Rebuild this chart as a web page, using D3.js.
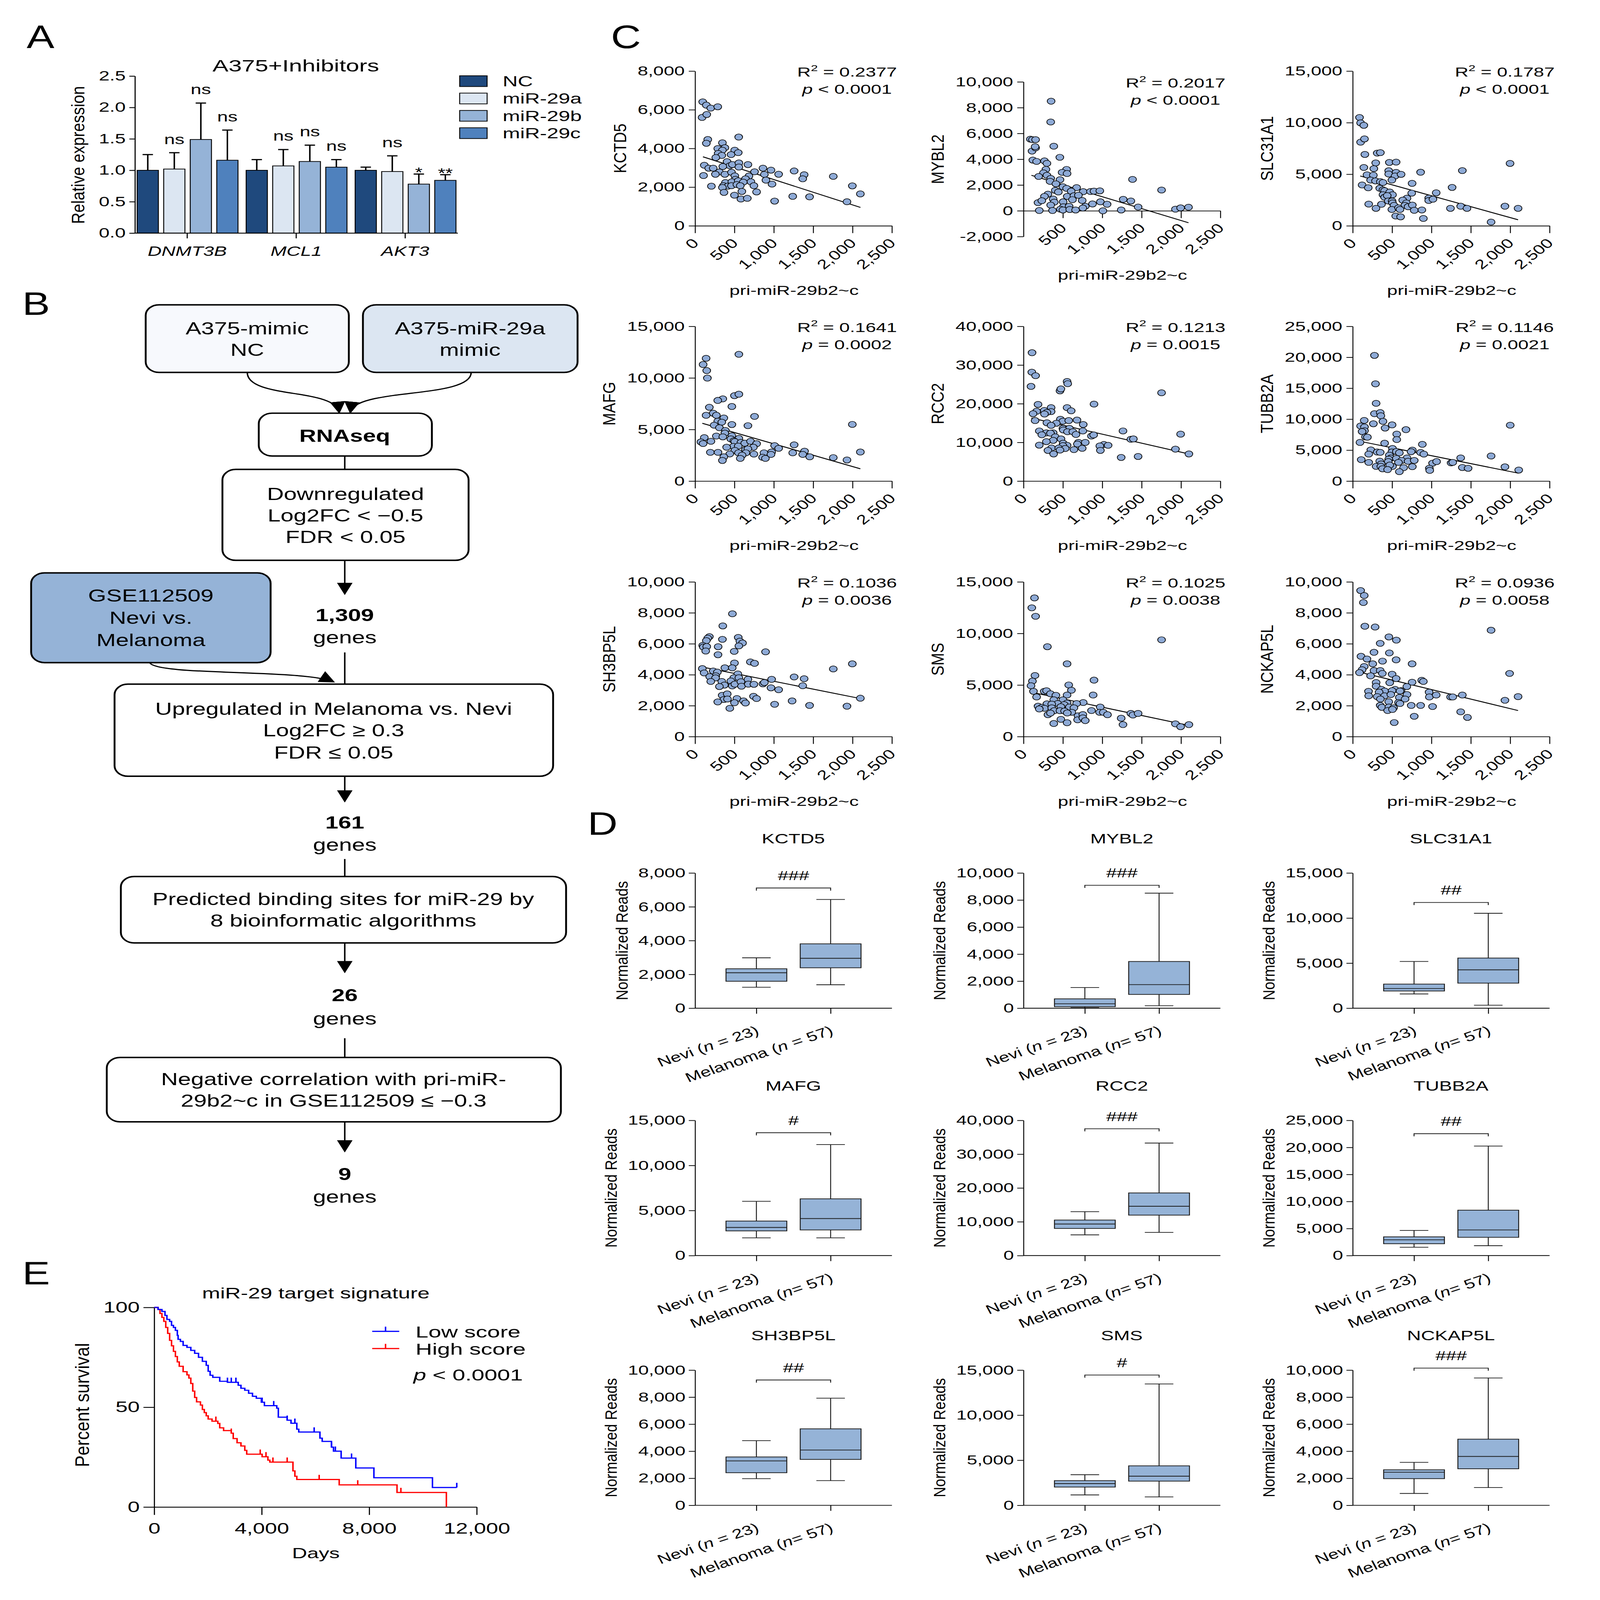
<!DOCTYPE html>
<html><head><meta charset="utf-8">
<script src="https://cdn.jsdelivr.net/npm/d3@7"></script>
<style>html,body{margin:0;padding:0;background:#fff;overflow:hidden}svg{display:block}</style>
</head><body>
<svg id="fig" viewBox="0 0 4316 5491" preserveAspectRatio="none" style="width:100vw;height:100vh" xmlns="http://www.w3.org/2000/svg"></svg>
<script>
// ---------------- DATA ----------------
// Panel A
const aGenes = ["DNMT3B","MCL1","AKT3"];
const aSeries = ["NC","miR-29a","miR-29b","miR-29c"];
const aColors = ["#1f497d","#dce6f2","#95b3d7","#4f81bd"];
const aMeans = [[1.00,1.02,1.49,1.16],[1.00,1.07,1.14,1.05],[1.00,0.98,0.78,0.84]];
const aErrTop = [[1.25,1.28,2.07,1.64],[1.17,1.33,1.40,1.17],[1.05,1.23,0.94,0.93]];
const aSig = [["","ns","ns","ns"],["","ns","ns","ns"],["","ns","*","**"]];
const aTicks = [0,0.5,1,1.5,2,2.5];

// Panel C
const cGenes = ["KCTD5","MYBL2","SLC31A1","MAFG","RCC2","TUBB2A","SH3BP5L","SMS","NCKAP5L"];
const cYMin = [0,-2000,0,0,0,0,0,0,0];
const cYMax = [8000,10000,15000,15000,40000,25000,10000,15000,10000];
const cYStep = [2000,2000,5000,5000,10000,5000,2000,5000,2000];
const cXTicks = [0,500,1000,1500,2000,2500];
const r2Vals = ["0.2377","0.2017","0.1787","0.1641","0.1213","0.1146","0.1036","0.1025","0.0936"];
const pVals = ["< 0.0001","< 0.0001","< 0.0001","= 0.0002","= 0.0015","= 0.0021","= 0.0036","= 0.0038","= 0.0058"];
const fitStart = [[100,3570],[100,2754],[95,4831],[92,5604],[100,16306],[92,6424],[92,4498],[95,4312],[95,4157]];
const fitEnd = [[2100,950],[2095,-926],[2100,586],[2099,1192],[2100,7018],[2108,1264],[2099,2461],[2100,1086],[2100,1685]];

const kctd5Pts = [[97,6409],[143,6240],[199,6087],[288,6155],[89,5604],[148,5757],[161,4462],[143,4267],[554,4589],[347,4292],[288,3996],[378,4038],[347,3911],[293,3742],[339,3640],[263,3530],[503,3911],[457,3683],[548,3784],[406,3319],[441,3107],[474,3166],[556,3251],[556,3039],[671,3166],[117,3132],[173,2980],[230,2980],[352,3065],[309,2785],[258,2667],[378,2667],[107,2599],[462,2768],[505,2582],[513,2404],[755,2794],[862,2980],[964,2878],[880,2658],[1061,2667],[684,2574],[640,2430],[709,2277],[900,2362],[385,2235],[467,2277],[548,2328],[612,2260],[207,2049],[360,2074],[416,2049],[462,2074],[531,2133],[574,2074],[747,2074],[977,2159],[347,1981],[367,1727],[594,1778],[781,1752],[500,1583],[582,1388],[663,1422],[1010,1278],[1240,1524],[1454,1498],[1258,2836],[1385,2641],[1367,2430],[1755,2557],[1997,2066],[2099,1651],[1929,1244]];
const mybl2Pts = [[350,8502],[345,6891],[87,5558],[113,5520],[153,5520],[108,4632],[153,4886],[147,4975],[384,5013],[118,3934],[166,3832],[461,4150],[266,3870],[297,3680],[284,3211],[253,2944],[192,2665],[297,2754],[345,2513],[337,2284],[547,3211],[490,2982],[553,2893],[463,2411],[411,2094],[500,1865],[547,1739],[674,1802],[403,1586],[442,1459],[605,1523],[758,1485],[850,1497],[895,1523],[969,1548],[310,1294],[266,1117],[555,1117],[640,1167],[697,1206],[376,914],[621,863],[745,800],[184,635],[232,787],[390,673],[503,698],[345,444],[505,317],[579,355],[784,355],[753,216],[876,533],[976,698],[1061,508],[200,25],[368,25],[468,127],[500,63],[587,102],[661,63],[1008,0],[1240,63],[1266,888],[1363,761],[1455,292],[1384,2436],[1753,1612],[1929,127],[1995,228],[2095,279]];
const slc31a1Pts = [[86,10502],[100,9979],[141,9742],[100,8110],[149,8427],[154,6922],[311,7049],[351,7096],[292,6098],[141,5655],[268,5544],[181,4942],[262,4910],[465,6146],[551,6178],[457,5338],[457,5021],[551,5180],[538,4831],[614,4990],[862,5196],[227,4435],[289,4356],[351,4277],[384,4198],[497,4435],[754,4118],[119,3960],[197,3691],[343,3643],[384,3485],[405,3406],[470,3279],[505,3010],[384,3010],[405,2772],[438,2930],[451,2408],[500,2408],[505,2218],[524,1980],[749,3168],[689,2677],[635,2487],[681,2218],[662,1980],[703,1853],[757,2012],[203,2107],[365,2091],[295,1695],[497,1584],[581,1742],[600,1584],[781,1505],[878,1536],[546,950],[608,871],[897,713],[965,2693],[965,2455],[1019,2582],[1060,3200],[1262,3722],[1241,1695],[1371,1901],[1451,1695],[1392,5354],[1757,364],[1933,1901],[1998,6051],[2100,1695]];
const mafgPts = [[556,12291],[140,11904],[102,11300],[148,10712],[156,9985],[500,8282],[556,8421],[352,7972],[288,7817],[467,7229],[181,7152],[230,6579],[140,6378],[270,6378],[365,6115],[755,6269],[288,5805],[339,5712],[242,5418],[309,5170],[467,5480],[671,5372],[385,4907],[378,4644],[467,4396],[270,4365],[352,4288],[117,4211],[454,4087],[556,4133],[492,3901],[505,3824],[582,3746],[630,3669],[704,3855],[781,3622],[74,3793],[102,3638],[201,3855],[487,3359],[548,3390],[401,3282],[740,3282],[505,2972],[640,3050],[671,3127],[194,2786],[291,2786],[441,2632],[551,2740],[645,2740],[747,2616],[597,2508],[365,2353],[347,1997],[574,2198],[875,2740],[857,2306],[893,2198],[972,2817],[964,2585],[1010,3437],[1061,3173],[1258,3514],[1240,2740],[1390,2895],[1367,2585],[1456,2353],[1755,2276],[1929,2043],[1997,5495],[2099,2817]];
const rcc2Pts = [[108,33189],[105,28153],[153,27245],[95,24479],[553,25759],[561,25181],[463,23323],[474,23819],[1753,22828],[184,19814],[895,19897],[350,18989],[553,18989],[263,18246],[166,18039],[350,17957],[297,17750],[266,17338],[605,18163],[121,17420],[468,15975],[500,15480],[574,15645],[679,15769],[147,15645],[416,14943],[297,15067],[350,14406],[758,14613],[500,13622],[582,13622],[505,13210],[558,12755],[626,12755],[753,12962],[1263,12962],[200,12962],[290,12467],[232,11971],[376,12467],[342,12384],[666,12054],[863,11641],[890,11930],[403,11435],[476,10898],[376,10526],[290,10196],[697,9990],[784,9990],[503,9783],[684,9577],[553,9247],[500,9164],[1021,9453],[1074,9247],[969,9082],[200,9288],[355,8545],[447,8545],[529,8421],[463,8008],[640,8132],[745,8462],[310,7926],[382,7018],[976,7926],[1363,10815],[1395,10898],[1240,6109],[1455,6357],[1929,8256],[1995,12136],[2100,7018]];
const tubb2aPts = [[276,20305],[289,15712],[297,12565],[276,10888],[349,11068],[357,10552],[384,9649],[146,9804],[100,8901],[149,8746],[149,8127],[119,7998],[262,9262],[411,8566],[500,9082],[676,8308],[559,7585],[559,6708],[162,7147],[186,7095],[92,6244],[405,6115],[884,5934],[505,5263],[230,5031],[311,4696],[349,4644],[497,4696],[554,4773],[592,4567],[757,5005],[741,4747],[862,4618],[903,4360],[203,4360],[465,4180],[484,3715],[689,3741],[554,3664],[457,3535],[622,3328],[703,3199],[781,3328],[108,3457],[343,3225],[203,3019],[451,3148],[581,3019],[362,2761],[505,2374],[470,2580],[297,2374],[357,2374],[378,1987],[443,1858],[646,2167],[757,2322],[592,1522],[1014,2890],[1065,3148],[973,2064],[978,1729],[1249,2941],[1270,3019],[1371,3741],[1392,2193],[1465,2064],[1757,4051],[1933,2296],[2000,9030],[2108,1780]];
const sh3bp5lPts = [[474,7941],[352,7155],[181,6462],[161,6359],[143,6204],[347,6287],[548,6411],[569,6173],[602,6049],[97,5894],[105,5790],[148,5821],[293,5811],[556,5863],[135,5532],[497,5511],[291,5294],[895,5480],[500,4756],[702,4829],[755,4736],[92,4395],[115,4115],[378,4446],[472,4446],[230,4239],[283,4167],[263,3929],[186,3878],[260,3795],[543,4053],[492,3805],[556,3805],[671,3702],[972,3702],[199,3567],[339,3567],[372,3330],[309,3236],[454,3598],[472,3278],[505,3392],[582,3547],[589,3257],[676,3392],[747,3381],[862,3412],[880,3495],[964,3154],[1061,3030],[1258,3857],[1385,3743],[1367,3288],[344,2668],[408,2761],[365,2399],[411,2430],[531,2461],[742,2606],[781,2461],[615,2306],[640,2171],[288,2244],[500,2192],[441,1830],[1010,2089],[1232,2306],[1454,2016],[1755,4374],[1997,4705],[1929,1965],[2099,2482]];
const smsPts = [[139,13447],[105,12486],[153,11664],[303,8717],[1753,9384],[553,7057],[145,5925],[113,5382],[95,4932],[895,5475],[574,5010],[608,4498],[126,4389],[263,4389],[292,4451],[342,4157],[411,4002],[553,4033],[884,4033],[166,3847],[384,3567],[500,3567],[434,3211],[553,3257],[758,3304],[674,3211],[297,3180],[358,3149],[516,3102],[974,2869],[184,2947],[232,2838],[266,2745],[474,2900],[582,2869],[640,2792],[200,2683],[358,2792],[389,2513],[463,2513],[521,2482],[613,2357],[555,2295],[863,2528],[966,2357],[1013,2357],[1066,2125],[310,2125],[342,2280],[692,2016],[753,2140],[687,1629],[753,1815],[784,1551],[474,1675],[384,1272],[553,1349],[1240,1784],[1263,1163],[1363,2249],[1389,2094],[1455,2249],[1929,1241],[1995,962],[2100,1163]];
const nckap5lPts = [[100,9440],[146,9120],[135,8665],[154,7135],[284,7083],[1757,6876],[459,6442],[554,6235],[349,6028],[270,5449],[465,5408],[105,5191],[181,5015],[551,4963],[378,4880],[254,4705],[754,4705],[146,4529],[119,4322],[86,4136],[270,4270],[349,4270],[376,4084],[227,3929],[500,4033],[551,3753],[1992,4084],[876,3640],[897,3567],[754,3516],[470,3485],[297,3495],[297,3257],[687,3236],[538,3050],[614,2968],[365,3050],[405,2947],[200,2926],[335,2875],[500,2968],[600,2947],[970,2875],[203,2637],[405,2637],[484,2719],[311,2585],[351,2430],[689,2719],[592,2533],[665,2430],[973,2564],[1060,2688],[1243,2564],[1270,2564],[1392,2688],[457,2254],[581,2202],[600,2140],[349,2016],[370,1892],[459,1913],[519,1861],[443,1685],[505,1758],[743,2016],[862,2016],[1014,1944],[781,1313],[527,910],[1371,1603],[1457,1241],[1933,2347],[2100,2585]];
const cPoints = [kctd5Pts,mybl2Pts,slc31a1Pts,mafgPts,rcc2Pts,tubb2aPts,sh3bp5lPts,smsPts,nckap5lPts];

// Panel D  (min, q1, median, q3, max)
const dGroups = ["Nevi","Melanoma"];
const dYMax = [8000,10000,15000,15000,40000,25000,10000,15000,10000];
const neviStats = [[1240,1594,2096,2332,2982],[36,109,327,691,1527],[1582,1909,2182,2673,5182],[1971,2737,3120,3832,6021],[6132,8029,9343,10511,12993],[1551,2190,2920,3467,4653],[1971,2409,3285,3577,4781],[1150,2025,2409,2737,3394],[876,1971,2445,2628,3175]];
const melStats = [[1387,2391,2952,3808,6435],[182,1018,1745,3454,8508],[327,2782,4255,5564,10528],[1971,2846,4106,6295,12317],[6861,11971,14599,18540,33286],[1825,3376,4745,8394,20255],[1825,3394,4088,5657,7920],[931,2682,3230,4379,13466],[1314,2701,3614,4891,9417]];
const bracketY = [7114,9090,11727,13631,37518,22536,9270,14453,10146];
const sigLabels = ["###","###","##","#","###","##","##","#","###"];

// Panel E (Kaplan-Meier)
const lowScore = [[0,100],[143,99],[287,98],[401,96],[473,94],[574,93],[645,91],[717,90],[789,88.5],[860,86],[889,84],[975,83],[1076,81],[1219,80],[1362,78.5],[1506,77],[1649,75],[1793,73],[1936,71],[2008,68],[2080,66],[2180,65],[2438,63],[2725,62.5],[3126,61],[3227,59.5],[3370,58.5],[3513,57],[3657,55.5],[3800,54.5],[3987,52.5],[4100,50.8],[4560,49.5],[4618,45],[4947,43.5],[5090,42],[5306,39],[5378,37.6],[6166,34.5],[6250,32.9],[6596,30],[6670,28],[6955,24.5],[7500,19.6],[8174,14.7],[10353,9.8],[11257,9.8]];
const highScore = [[0,100],[143,99],[215,97],[287,95],[358,93],[430,90],[502,87],[574,83.5],[645,80.8],[717,78],[789,75.4],[860,72.7],[932,70.5],[1076,67.8],[1219,66.2],[1291,64.6],[1362,61.9],[1434,58.1],[1506,54.9],[1577,52.7],[1721,51.1],[1793,48.9],[1864,47.3],[1936,45.7],[2008,44.1],[2151,43],[2366,41.9],[2438,39.7],[2581,38.3],[2868,37],[2940,34.3],[3083,32.2],[3227,30.6],[3370,28.4],[3442,26.5],[4015,25.2],[4230,23.5],[4302,22.5],[5162,18.1],[5234,15.4],[5306,13.8],[6883,11.1],[9034,7.3],[10870,0]];
const lowCensor = [2725,2868,3040,4015,4446,4947,5234,5951,6596,6740,7342,11257];
const highCensor = [2294,2868,3944,4159,4417,4947,6138,7572,9178];
const eXTicks = [0,4000,8000,12000];
const eYTicks = [0,50,100];

// ---------------- DRAW ----------------
const FONT = "'Liberation Sans', Arial, Helvetica, sans-serif";
const svg = d3.select("#fig").attr("font-family", FONT);
svg.append("rect").attr("width",4316).attr("height",5491).attr("fill","#fff");

function styleAxis(g, fs, sw){
  g.attr("font-family", FONT).attr("font-size", fs);
  g.selectAll("path,line").attr("stroke","#000").attr("stroke-width",sw);
  g.selectAll("text").attr("fill","#000");
}
const comma = d => (d<0?"-":"") + d3.format(",")(Math.abs(d));
const wide = svg.append("g").attr("class","wide");   // panels A, C, D, E (wider lettering)
const flow = svg.append("g").attr("class","flow");   // panel B

// panel letters
[["A",72,165],["B",60,1081],["C",1648,165],["D",1585,2865],["E",60,4408]].forEach(([t,x,y])=>{
  svg.append("text").attr("x",x).attr("y",y).attr("font-size",112).text(t);
});

// ===== Panel A =====
(function(){
  const g = wide.append("g");
  const x = d3.scaleBand().domain(aGenes).range([358,1240]);
  const xi = d3.scaleBand().domain(aSeries).range([12,284]).paddingInner(0.2);
  const y = d3.scaleLinear().domain([0,2.5]).range([800,261]);
  g.append("text").attr("x",798).attr("y",246).attr("text-anchor","middle").attr("font-size",57).text("A375+Inhibitors");
  aGenes.forEach((gene,gi)=>{
    aSeries.forEach((s,si)=>{
      const bx = x(gene)+xi(s), bw = xi.bandwidth(), cx = bx+bw/2;
      const v = aMeans[gi][si], e = aErrTop[gi][si];
      g.append("line").attr("x1",cx).attr("x2",cx).attr("y1",y(v)).attr("y2",y(e)).attr("stroke","#000").attr("stroke-width",4);
      g.append("line").attr("x1",cx-14).attr("x2",cx+14).attr("y1",y(e)).attr("y2",y(e)).attr("stroke","#000").attr("stroke-width",4);
      g.append("rect").attr("x",bx).attr("y",y(v)).attr("width",bw).attr("height",y(0)-y(v))
        .attr("fill",aColors[si]).attr("stroke","#000").attr("stroke-width",2.5);
      const lab = aSig[gi][si];
      if(lab){
        const isStar = lab.indexOf("*")>=0;
        g.append("text").attr("x",cx).attr("y", isStar ? y(e)+10 : y(e)-30)
          .attr("text-anchor","middle").attr("font-size",46).text(lab);
      }
    });
  });
  const ya = g.append("g").attr("transform","translate(364,0)")
    .call(d3.axisLeft(y).tickValues(aTicks).tickFormat(d3.format(".1f")).tickSize(15).tickPadding(10).tickSizeOuter(0));
  styleAxis(ya,46,3);
  const xa = g.append("g").attr("transform","translate(0,800)")
    .call(d3.axisBottom(x).tickSize(18).tickSizeOuter(0).tickFormat(""));
  styleAxis(xa,46,3);
  xa.select(".domain").attr("d","M364,0H1235");
  aGenes.forEach(gene=>{
    g.append("text").attr("x",x(gene)+x.bandwidth()/2).attr("y",878).attr("text-anchor","middle")
      .attr("font-size",46).attr("font-style","italic").text(gene);
  });
  g.append("text").attr("transform","translate(228,532) rotate(-90)").attr("text-anchor","middle")
    .attr("font-size",48).text("Relative expression");
  aSeries.forEach((s,si)=>{
    const top = 260 + si*59.5;
    g.append("rect").attr("x",1240).attr("y",top).attr("width",74).attr("height",37)
      .attr("fill",aColors[si]).attr("stroke","#000").attr("stroke-width",2.5);
    g.append("text").attr("x",1356).attr("y",top+36).attr("font-size",50).text(s);
  });
})();

// ===== Panel B (flowchart) =====
(function(){
  const g = flow;
  const defs = svg.append("defs");
  defs.append("marker").attr("id","arr").attr("viewBox","0 0 10 10").attr("refX",9).attr("refY",5)
    .attr("markerWidth",42).attr("markerHeight",42).attr("markerUnits","userSpaceOnUse").attr("orient","auto")
    .append("path").attr("d","M0,0L10,5L0,10z").attr("fill","#000");
  const FS = 60;
  const boxes = [
    {x:393,y:1046,w:548,h:232,fill:"#f7f9fd",lines:["A375-mimic","NC"],cy:[1127,1200],cx:667},
    {x:979,y:1046,w:579,h:232,fill:"#dce6f2",lines:["A375-miR-29a","mimic"],cy:[1127,1200],cx:1268},
    {x:698,y:1418,w:467,h:147,fill:"#fff",lines:["RNAseq"],cy:[1495],cx:930,bold:true},
    {x:600,y:1611,w:664,h:312,fill:"#fff",lines:["Downregulated","Log2FC < \u22120.5","FDR < 0.05"],cy:[1695,1769,1843],cx:932},
    {x:84,y:1966,w:646,h:308,fill:"#95b3d7",lines:["GSE112509","Nevi vs.","Melanoma"],cy:[2043,2120,2197],cx:407},
    {x:309,y:2348,w:1183,h:316,fill:"#fff",lines:["Upregulated in Melanoma vs. Nevi","Log2FC \u2265 0.3","FDR \u2264 0.05"],cy:[2432,2506,2583],cx:900},
    {x:326,y:3008,w:1201,h:228,fill:"#fff",lines:["Predicted binding sites for miR-29 by","8 bioinformatic algorithms"],cy:[3085,3159],cx:926},
    {x:288,y:3629,w:1225,h:221,fill:"#fff",lines:["Negative correlation with pri-miR-","29b2~c in GSE112509 \u2264 \u22120.3"],cy:[3703,3777],cx:900}
  ];
  boxes.forEach(b=>{
    g.append("rect").attr("x",b.x).attr("y",b.y).attr("width",b.w).attr("height",b.h).attr("rx",36).attr("ry",36)
      .attr("fill",b.fill).attr("stroke","#000").attr("stroke-width",5);
    b.lines.forEach((l,i)=>{
      g.append("text").attr("x",b.cx).attr("y",b.cy[i]+21).attr("text-anchor","middle").attr("font-size",FS)
        .attr("font-weight",b.bold?"bold":"normal").text(l);
    });
  });
  const counts = [["1,309",2110,2187],["161",2822,2899],["26",3415,3496],["9",4029,4107]];
  counts.forEach(([n,y1,y2])=>{
    g.append("text").attr("x",930).attr("y",y1+21).attr("text-anchor","middle").attr("font-size",FS).attr("font-weight","bold").text(n);
    g.append("text").attr("x",930).attr("y",y2+21).attr("text-anchor","middle").attr("font-size",FS).text("genes");
  });
  const ln = (d,arrow)=>{ const p=g.append("path").attr("d",d).attr("fill","none").attr("stroke","#000").attr("stroke-width",4); if(arrow) p.attr("marker-end","url(#arr)"); };
  ln("M667,1278C667,1370 905,1330 915,1416",true);
  ln("M1271,1278C1271,1370 955,1330 945,1416",true);
  ln("M930,1565V1611",false);
  ln("M930,1923V2038",true);
  ln("M930,2239V2348",false);
  ln("M404,2274C420,2320 820,2296 900,2340",true);
  ln("M930,2664V2750",true);
  ln("M930,2948V3008",false);
  ln("M930,3236V3336",true);
  ln("M930,3563V3629",false);
  ln("M930,3850V3951",true);
})();

// ===== Panel C (scatter) =====
const colX = [1875,2761,3649];
const cRowTop = [244,1120,1997];
const CW = 531, CH = 531;
cGenes.forEach((gene,i)=>{
  const col=i%3, row=Math.floor(i/3);
  const ax = colX[col];
  const top = cRowTop[row] + (cYMin[i]<0 ? 37 : 0);
  const g = wide.append("g");
  const x = d3.scaleLinear().domain([0,2500]).range([ax,ax+CW]);
  const y = d3.scaleLinear().domain([cYMin[i],cYMax[i]]).range([top+CH,top]);
  const yt = d3.range(cYMin[i],cYMax[i]+1,cYStep[i]);
  const ya = g.append("g").attr("transform",`translate(${ax},0)`)
    .call(d3.axisLeft(y).tickValues(yt).tickFormat(comma).tickSize(17).tickPadding(11).tickSizeOuter(0));
  styleAxis(ya,45,2.5);
  const xt = cYMin[i]<0 ? cXTicks.slice(1) : cXTicks;
  const xa = g.append("g").attr("transform",`translate(0,${y(0)})`)
    .call(d3.axisBottom(x).tickValues(xt).tickFormat(comma).tickSize(25).tickSizeOuter(0));
  styleAxis(xa,45,2.5);
  xa.selectAll(".tick text").attr("x",0).attr("y",0).attr("dy",0).attr("text-anchor","end")
    .attr("transform","translate(12,62) rotate(-45)");
  g.append("line").attr("x1",x(fitStart[i][0])).attr("y1",y(fitStart[i][1])).attr("x2",x(fitEnd[i][0])).attr("y2",y(fitEnd[i][1]))
    .attr("stroke","#000").attr("stroke-width",3);
  g.selectAll("circle.pt").data(cPoints[i]).join("circle").attr("class","pt")
    .attr("cx",d=>x(d[0])).attr("cy",d=>y(d[1])).attr("r",10.5)
    .attr("fill","#8eaad6").attr("stroke","#000").attr("stroke-width",2);
  const t1 = g.append("text").attr("x",ax+410).attr("y",top+19).attr("text-anchor","middle").attr("font-size",45);
  t1.append("tspan").text("R");
  t1.append("tspan").attr("dy",-19).attr("font-size",30).text("2");
  t1.append("tspan").attr("dy",19).text(" = "+r2Vals[i]);
  const t2 = g.append("text").attr("x",ax+410).attr("y",top+78).attr("text-anchor","middle").attr("font-size",45);
  t2.append("tspan").attr("font-style","italic").text("p");
  t2.append("tspan").text(" "+pVals[i]);
  g.append("text").attr("x",ax+267).attr("y",y(0)+237).attr("text-anchor","middle").attr("font-size",45).text("pri-miR-29b2~c");
  const off = cYMax[i]>=10000 || cYMin[i]<0 ? 215 : 186;
  g.append("text").attr("transform",`translate(${ax-off},${top+CH/2}) rotate(-90)`).attr("text-anchor","middle")
    .attr("font-size",46).text(gene);
});

// ===== Panel D (box plots) =====
const dRowTop = [2996,3845,4702];
const DH = 464;
cGenes.forEach((gene,i)=>{
  const col=i%3, row=Math.floor(i/3);
  const ax = colX[col], top = dRowTop[row], bot = top+DH;
  const g = wide.append("g");
  const x = d3.scalePoint().domain(dGroups).range([ax,ax+CW]).padding(0.826);
  const y = d3.scaleLinear().domain([0,dYMax[i]]).range([bot,top]);
  const ya = g.append("g").attr("transform",`translate(${ax},0)`)
    .call(d3.axisLeft(y).tickValues(d3.range(0,dYMax[i]+1,cYStep[i])).tickFormat(comma).tickSize(17).tickPadding(9).tickSizeOuter(0));
  styleAxis(ya,45,2.5);
  const xa = g.append("g").attr("transform",`translate(0,${bot})`)
    .call(d3.axisBottom(x).tickSize(19).tickSizeOuter(0).tickFormat(""));
  styleAxis(xa,45,2.5);
  xa.select(".domain").attr("d",`M${ax},0H${ax+CW}`);
  const stats = [neviStats[i], melStats[i]];
  const BW = 164, CAP = 77;
  dGroups.forEach((grp,k)=>{
    const s = stats[k], cx = x(grp);
    const L = (x1,y1,x2,y2)=>g.append("line").attr("x1",x1).attr("y1",y1).attr("x2",x2).attr("y2",y2).attr("stroke","#1a1a1a").attr("stroke-width",2.5);
    L(cx,y(s[4]),cx,y(s[3])); L(cx,y(s[1]),cx,y(s[0]));
    L(cx-CAP/2,y(s[4]),cx+CAP/2,y(s[4])); L(cx-CAP/2,y(s[0]),cx+CAP/2,y(s[0]));
    g.append("rect").attr("x",cx-BW/2).attr("y",y(s[3])).attr("width",BW).attr("height",y(s[1])-y(s[3]))
      .attr("fill","#95b3d7").attr("stroke","#1a1a1a").attr("stroke-width",2.5);
    L(cx-BW/2,y(s[2]),cx+BW/2,y(s[2]));
    const t = g.append("text").attr("text-anchor","end").attr("font-size",45)
      .attr("transform",`translate(${cx+10},${bot+88}) rotate(-23)`);
    if(k===0){
      t.append("tspan").text("Nevi (");
      t.append("tspan").attr("font-style","italic").text("n");
      t.append("tspan").text(" = 23)");
    } else {
      t.append("tspan").text("Melanoma (");
      t.append("tspan").attr("font-style","italic").text("n");
      t.append("tspan").text(i===0 ? " = 57)" : "= 57)");
    }
  });
  const by = y(bracketY[i]), x1 = x(dGroups[0]), x2 = x(dGroups[1]);
  g.append("path").attr("d",`M${x1},${by+9}V${by}H${x2}V${by+9}`).attr("fill","none").attr("stroke","#1a1a1a").attr("stroke-width",2.5);
  g.append("text").attr("x",(x1+x2)/2).attr("y",by-27).attr("text-anchor","middle").attr("font-size",45).text(sigLabels[i]);
  g.append("text").attr("x",ax+265).attr("y",top-102).attr("text-anchor","middle").attr("font-size",46).text(gene);
  const off = dYMax[i]>=10000 ? 211 : 182;
  g.append("text").attr("transform",`translate(${ax-off},${(top+bot)/2}) rotate(-90)`).attr("text-anchor","middle")
    .attr("font-size",44).text("Normalized Reads");
});

// ===== Panel E (Kaplan-Meier) =====
(function(){
  const g = wide.append("g");
  const x = d3.scaleLinear().domain([0,12000]).range([416,1286]);
  const y = d3.scaleLinear().domain([0,100]).range([5172,4487]);
  const ya = g.append("g").attr("transform","translate(416,0)")
    .call(d3.axisLeft(y).tickValues(eYTicks).tickSize(29).tickPadding(10).tickSizeOuter(0));
  styleAxis(ya,52,3);
  const xa = g.append("g").attr("transform","translate(0,5172)")
    .call(d3.axisBottom(x).tickValues(eXTicks).tickFormat(d3.format(",")).tickSize(27).tickPadding(27).tickSizeOuter(0));
  styleAxis(xa,52,3);
  const line = d3.line().x(d=>x(d[0])).y(d=>y(d[1])).curve(d3.curveStepAfter);
  const stepVal = (data,t)=>{ let v=data[0][1]; data.forEach(d=>{ if(d[0]<=t) v=d[1]; }); return v; };
  [[highScore,highCensor,"#ff0000"],[lowScore,lowCensor,"#0000ff"]].forEach(([data,cens,col])=>{
    g.append("path").attr("d",line(data)).attr("fill","none").attr("stroke",col).attr("stroke-width",4);
    cens.forEach(t=>{
      const v = stepVal(data,t);
      g.append("line").attr("x1",x(t)).attr("x2",x(t)).attr("y1",y(v)).attr("y2",y(v)-16).attr("stroke",col).attr("stroke-width",4);
    });
  });
  g.append("text").attr("x",852).attr("y",4456).attr("text-anchor","middle").attr("font-size",52).text("miR-29 target signature");
  g.append("text").attr("x",852).attr("y",5347).attr("text-anchor","middle").attr("font-size",50).text("Days");
  g.append("text").attr("transform","translate(240,4822) rotate(-90)").attr("text-anchor","middle").attr("font-size",53).text("Percent survival");
  [["Low score","#0000ff",4569],["High score","#ff0000",4628]].forEach(([lab,col,ly])=>{
    g.append("line").attr("x1",1004).attr("x2",1077).attr("y1",ly).attr("y2",ly).attr("stroke",col).attr("stroke-width",4);
    g.append("line").attr("x1",1040).attr("x2",1040).attr("y1",ly).attr("y2",ly-16).attr("stroke",col).attr("stroke-width",4);
    g.append("text").attr("x",1121).attr("y",ly+21).attr("font-size",55).text(lab);
  });
  const pt = g.append("text").attr("x",1115).attr("y",4737).attr("font-size",55);
  pt.append("tspan").attr("font-style","italic").text("p");
  pt.append("tspan").text(" < 0.0001");
})();

// The reference lettering is slightly wider than Liberation Sans at the same height: stretch glyphs horizontally.
function stretch(sel, f){
  sel.each(function(){
    const L = this.getComputedTextLength();
    if(L>0){ this.setAttribute("textLength",(L*f).toFixed(1)); this.setAttribute("lengthAdjust","spacingAndGlyphs"); }
  });
}
stretch(wide.selectAll("text"), 1.13);
stretch(flow.selectAll("text"), 1.05);
</script>
</body></html>
